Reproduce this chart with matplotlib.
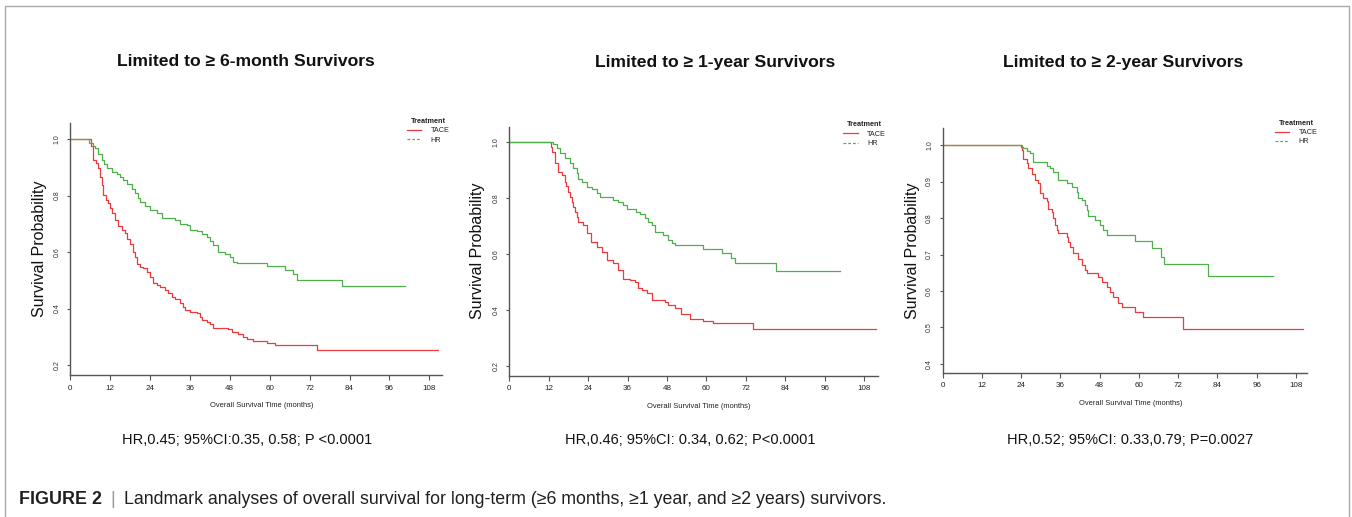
import matplotlib
matplotlib.use("Agg")
import matplotlib.pyplot as plt
from matplotlib.lines import Line2D

plt.rcParams['font.family'] = ['Liberation Sans', 'DejaVu Sans']

# ---------------- data ----------------
titles = ["Limited to \u2265 6-month Survivors",
          "Limited to \u2265 1-year Survivors",
          "Limited to \u2265 2-year Survivors"]
hr_texts = ["HR,0.45; 95%CI:0.35, 0.58; P <0.0001",
            "HR,0.46; 95%CI: 0.34, 0.62; P<0.0001",
            "HR,0.52; 95%CI: 0.33,0.79; P=0.0027"]
groups = ["TACE", "HR"]
x_ticks = [0, 12, 24, 36, 48, 60, 72, 84, 96, 108]
y_ticks_p12 = [0.2, 0.4, 0.6, 0.8, 1.0]
y_ticks_p3 = [0.4, 0.5, 0.6, 0.7, 0.8, 0.9, 1.0]

# Panel 1 (>= 6 months)
p1_tace_t = [0, 6.2, 7.0, 7.8, 8.5, 9.0, 9.5, 10.0, 10.8, 11.5, 12.0, 12.5, 13.5, 14.5,
             15.5, 16.5, 17.2, 18.0, 19.0, 19.5, 20.2, 21.0, 22.0, 23.0, 24.0, 25.0,
             26.1, 27.1, 28.6, 29.6, 30.6, 31.6, 33.1, 34.1, 34.6, 36.1, 38.1, 39.1,
             39.6, 41.1, 42.1, 43.1, 47.6, 48.6, 50.6, 52.1, 53.1, 55.1, 59.1, 61.6,
             74.1, 110.7]
p1_tace_s = [1.0, 0.975, 0.926, 0.914, 0.896, 0.867, 0.837, 0.802, 0.784, 0.773, 0.755,
             0.737, 0.714, 0.692, 0.680, 0.668, 0.648, 0.630, 0.601, 0.584, 0.558, 0.549,
             0.543, 0.531, 0.513, 0.492, 0.484, 0.476, 0.466, 0.455, 0.440, 0.433, 0.419,
             0.407, 0.395, 0.389, 0.383, 0.371, 0.360, 0.354, 0.345, 0.333, 0.327, 0.318,
             0.310, 0.301, 0.294, 0.285, 0.279, 0.271, 0.254, 0.254]
p1_hr_t = [0, 5.8, 7.0, 7.5, 8.5, 9.5, 10.2, 11.0, 12.5, 14.0, 15.0, 16.0, 17.0, 18.5,
           19.5, 20.5, 21.0, 22.5, 24.0, 26.1, 27.6, 31.6, 33.1, 35.1, 36.1, 38.1, 39.6,
           41.1, 42.1, 43.1, 44.6, 46.6, 48.1, 49.1, 50.1, 59.1, 64.6, 67.1, 68.1, 81.7,
           100.7]
p1_hr_s = [1.0, 0.985, 0.975, 0.967, 0.949, 0.926, 0.912, 0.896, 0.884, 0.878, 0.867,
           0.855, 0.841, 0.825, 0.808, 0.790, 0.778, 0.763, 0.749, 0.737, 0.719, 0.713,
           0.701, 0.696, 0.680, 0.676, 0.664, 0.654, 0.640, 0.625, 0.601, 0.595, 0.583,
           0.566, 0.562, 0.550, 0.536, 0.521, 0.503, 0.480, 0.480]

# Panel 2 (>= 1 year)
p2_tace_t = [0, 12.6, 12.9, 13.9, 14.9, 15.9, 16.9, 17.4, 18.0, 18.5, 19.0, 19.5, 20.0,
             20.5, 21.0, 22.5, 23.5, 25.0, 26.6, 28.1, 29.6, 31.6, 33.2, 34.7, 36.7, 38.2,
             39.2, 40.3, 41.8, 43.3, 47.4, 48.4, 50.4, 52.4, 55.0, 59.0, 62.1, 74.2, 111.6]
p2_tace_s = [1.0, 0.985, 0.967, 0.925, 0.895, 0.883, 0.860, 0.845, 0.824, 0.806, 0.788,
             0.770, 0.752, 0.735, 0.717, 0.705, 0.675, 0.645, 0.627, 0.610, 0.580, 0.568,
             0.544, 0.514, 0.508, 0.502, 0.479, 0.473, 0.461, 0.439, 0.431, 0.419, 0.407,
             0.389, 0.371, 0.363, 0.354, 0.332, 0.332]
p2_hr_t = [0, 12.9, 13.4, 14.4, 15.4, 16.9, 18.5, 19.5, 20.5, 21.0, 22.0, 23.5, 25.1,
           26.6, 27.6, 31.6, 33.2, 34.7, 35.7, 38.7, 39.8, 41.3, 42.3, 43.3, 44.3, 46.9,
           48.4, 49.4, 50.4, 59.0, 64.6, 67.6, 68.7, 81.3, 100.6]
p2_hr_s = [1.0, 1.0, 0.993, 0.979, 0.961, 0.943, 0.925, 0.907, 0.889, 0.871, 0.860,
           0.842, 0.832, 0.818, 0.804, 0.794, 0.788, 0.776, 0.761, 0.752, 0.746, 0.729,
           0.717, 0.705, 0.681, 0.669, 0.651, 0.642, 0.633, 0.621, 0.604, 0.586, 0.568,
           0.542, 0.542]

# Panel 3 (>= 2 years)
p3_tace_t = [0, 23.9, 24.1, 24.7, 25.7, 26.2, 27.2, 28.2, 29.2, 29.8, 30.8, 31.8, 32.3,
             33.3, 33.8, 34.3, 34.8, 35.4, 37.9, 38.4, 38.9, 39.9, 41.5, 42.5, 43.5, 44.0,
             47.6, 48.6, 50.1, 51.1, 52.2, 53.7, 54.7, 58.8, 61.3, 73.6, 110.2]
p3_tace_s = [1.0, 0.995, 0.986, 0.963, 0.950, 0.936, 0.922, 0.904, 0.895, 0.868, 0.854,
             0.847, 0.826, 0.817, 0.799, 0.781, 0.767, 0.758, 0.749, 0.735, 0.721, 0.703,
             0.689, 0.671, 0.658, 0.650, 0.639, 0.626, 0.612, 0.598, 0.584, 0.568, 0.555,
             0.543, 0.528, 0.496, 0.496]
p3_hr_t = [0, 24.1, 24.5, 25.7, 26.7, 27.7, 31.8, 32.8, 33.8, 35.4, 37.9, 39.4, 41.0,
           41.5, 42.5, 43.5, 44.0, 44.5, 46.6, 48.1, 49.1, 50.1, 58.8, 64.1, 66.9, 67.8,
           81.2, 100.9]
p3_hr_s = [1.0, 0.995, 0.991, 0.984, 0.977, 0.953, 0.942, 0.936, 0.927, 0.904, 0.895,
           0.884, 0.872, 0.854, 0.849, 0.836, 0.822, 0.805, 0.795, 0.781, 0.767, 0.753,
           0.737, 0.719, 0.694, 0.674, 0.642, 0.642]

panels = [
    (p1_tace_t, p1_tace_s, p1_hr_t, p1_hr_s, y_ticks_p12),
    (p2_tace_t, p2_tace_s, p2_hr_t, p2_hr_s, y_ticks_p12),
    (p3_tace_t, p3_tace_s, p3_hr_t, p3_hr_s, y_ticks_p3),
]

# ---------------- layout / style ----------------
W, H = 1352, 517
fig = plt.figure(figsize=(W / 100, H / 100), dpi=100)
fig.patch.set_facecolor("white")

def px(x, y):
    return x / W, 1 - y / H

# axes boxes: (left, top, right, bottom) in pixels
boxes = [(70, 123, 441.7, 375), (509.3, 126.7, 878.3, 375.7), (942.7, 128.3, 1306.7, 372.7)]
xlims = [(0, 111.7), (0, 112.3), (0, 111.3)]
ylims = [(0.165, 1.057), (0.167, 1.056), (0.376, 1.046)]
title_x = [246, 715, 1123]
hr_x = [247, 690, 1130]
xlabel_x = [261.5, 698.5, 1130.8]
xlabel_y = [405.7, 406.3, 403.7]
ylabel_x = [40, 478, 913]
legend_anchor = [(407, 118), (843.3, 121.4), (1275, 119.7)]

RED = "#EE3A3A"
GREEN = "#4DB04A"
AXC = "#555555"

for i, (tt, ts, ht, hs, yt) in enumerate(panels):
    l, t, r, b = boxes[i]
    ax = fig.add_axes([l / W, 1 - b / H, (r - l) / W, (b - t) / H])
    ax.step(tt, ts, where="post", color=RED, lw=0.9)
    ax.step(ht, hs, where="post", color=GREEN, lw=0.9)
    ax.set_xlim(*xlims[i])
    ax.set_ylim(*ylims[i])
    ax.set_xticks(x_ticks)
    ax.set_xticklabels([str(v) for v in x_ticks])
    ax.set_yticks(yt)
    ax.set_yticklabels(["%.1f" % v for v in yt])
    for s in ["top", "right"]:
        ax.spines[s].set_visible(False)
    for s in ["left", "bottom"]:
        ax.spines[s].set_color(AXC)
        ax.spines[s].set_linewidth(1.0)
    ax.tick_params(axis="x", direction="out", length=3.6, width=0.8, color=AXC,
                   labelsize=5.8, pad=3.4, labelcolor="#222222")
    ax.tick_params(axis="y", direction="out", length=2.4, width=0.8, color=AXC,
                   labelsize=5.0, pad=4.5, labelrotation=90, labelcolor="#333333")
    for lab in ax.get_yticklabels():
        lab.set_va("center")
    ax.set_facecolor("white")

    # axis labels
    fig.text(*px(xlabel_x[i], xlabel_y[i]), "Overall Survival Time (months)",
             ha="center", va="center", fontsize=5.4, color="#222222")
    fig.text(*px(ylabel_x[i], (t + b) / 2), "Survival Probability", rotation=90,
             ha="center", va="center", fontsize=11.5, color="#111111")

    # legend
    handles = [Line2D([], [], color=RED, lw=0.9),
               Line2D([], [], color=GREEN, lw=0.9, linestyle=(0, (2.2, 1.6)))]
    ax_x = (legend_anchor[i][0] - l) / (r - l)
    ax_y = (b - legend_anchor[i][1]) / (b - t)
    leg = ax.legend(handles, groups, title="Treatment", loc="upper left",
                    bbox_to_anchor=(ax_x, ax_y), frameon=False, fontsize=5.2,
                    title_fontproperties={"weight": "bold", "size": 5.2},
                    handlelength=2.0, handletextpad=1.3, labelspacing=0.32,
                    borderpad=0, borderaxespad=0)
    leg.get_title().set_color("#222222")
    for txt in leg.get_texts():
        txt.set_color("#222222")

    # panel title and HR text
    fig.text(*px(title_x[i], 62), titles[i], ha="center", va="center",
             fontsize=12.6, fontweight="bold", color="#111111")
    fig.text(*px(hr_x[i], 440), hr_texts[i], ha="center", va="center",
             fontsize=10.5, color="#111111")

# caption
fig.text(*px(19, 499), "FIGURE 2", ha="left", va="center", fontsize=12.9,
         fontweight="bold", color="#231F20")
fig.text(*px(113, 499), "|", ha="center", va="center", fontsize=12.9, color="#999999")
fig.text(*px(124, 499),
         "Landmark analyses of overall survival for long-term (\u22656 months, \u22651 year, and \u22652 years) survivors.",
         ha="left", va="center", fontsize=12.8, color="#231F20")

# outer frame (top, left, right)
frame_c = "#AAAAAA"
fig.add_artist(Line2D([4.5 / W, 4.5 / W, 1349 / W, 1349 / W],
                      [0, 1 - 6 / H, 1 - 6 / H, 0], color=frame_c, lw=1.0,
                      transform=fig.transFigure))

fig.savefig("out.png", dpi=100, facecolor="white")
